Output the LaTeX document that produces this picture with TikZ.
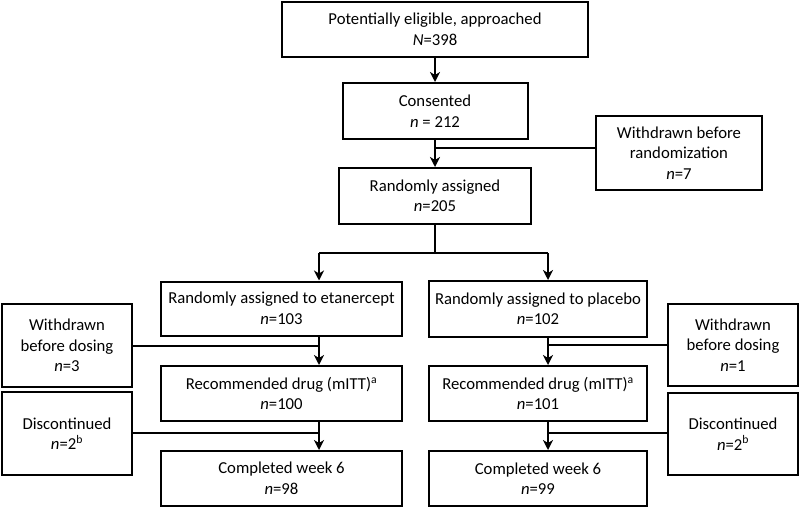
\documentclass[tikz,border=0pt]{standalone}
\usepackage{fontspec}
\setmainfont{Carlito}
\usetikzlibrary{arrows.meta}
\tikzset{
  box/.style={draw=black, line width=2pt, align=center, inner sep=0pt,
    font=\fontsize{16.7}{20.5}\selectfont},
  conn/.style={line width=1.7pt},
  arr/.style={conn, -{Stealth[length=10pt,width=10pt,inset=3pt]}}
}
\begin{document}
\begin{tikzpicture}[x=1pt,y=-1pt]
\useasboundingbox (0,0) rectangle (800,508);
\node[box, minimum width=306pt, minimum height=55pt] (top) at (435,29.5) {Potentially eligible, approached\\\textit{N}=398};
\node[box, minimum width=185pt, minimum height=56pt] (cons) at (435,111) {Consented\\\textit{n} = 212};
\node[box, minimum width=192pt, minimum height=56pt] (rand) at (435,196) {Randomly assigned\\\textit{n}=205};
\node[box, minimum width=166pt, minimum height=74pt] (wbr) at (679,153) {Withdrawn before\\randomization\\\textit{n}=7};
\node[box, minimum width=241pt, minimum height=54pt] (eta) at (281.5,308.5) {Randomly assigned to etanercept\\\textit{n}=103};
\node[box, minimum width=218pt, minimum height=56pt] (pla) at (538,309) {Randomly assigned to placebo\\\textit{n}=102};
\node[box, minimum width=130pt, minimum height=83pt] (wbdL) at (67,345.5) {Withdrawn\\before dosing\\\textit{n}=3};
\node[box, minimum width=241pt, minimum height=55pt] (recL) at (281.5,393.5) {Recommended drug (mITT)\textsuperscript{a}\\\textit{n}=100};
\node[box, minimum width=130pt, minimum height=83pt] (discL) at (67,433.5) {Discontinued\\\textit{n}=2\textsuperscript{b}};
\node[box, minimum width=241pt, minimum height=55pt] (compL) at (281.5,478.5) {Completed week 6\\\textit{n}=98};
\node[box, minimum width=130pt, minimum height=82pt] (wbdR) at (733,345) {Withdrawn\\before dosing\\\textit{n}=1};
\node[box, minimum width=218pt, minimum height=55pt] (recR) at (538,393.5) {Recommended drug (mITT)\textsuperscript{a}\\\textit{n}=101};
\node[box, minimum width=130pt, minimum height=82pt] (discR) at (733,434) {Discontinued\\\textit{n}=2\textsuperscript{b}};
\node[box, minimum width=218pt, minimum height=55pt] (compR) at (538,478.5) {Completed week 6\\\textit{n}=99};
\coordinate (j1) at (435,148);
\coordinate (bL) at (319,253);
\coordinate (bR) at (548,253);
\coordinate (jL1) at (319,346);
\coordinate (jL2) at (319,433);
\coordinate (jR1) at (548,345);
\coordinate (jR2) at (548,433);
\draw[arr] (top.south) -- (cons.north);
\draw[arr] (cons.south) -- (rand.north);
\draw[conn] (wbr.west |- j1) -- (j1);
\draw[conn] (rand.south) -- (rand.south |- bL);
\draw[conn] (bL) -- (bR);
\draw[arr] (bL) -- (bL |- eta.north);
\draw[arr] (bR) -- (bR |- pla.north);
\draw[arr] (eta.south -| bL) -- (recL.north -| bL);
\draw[arr] (recL.south -| bL) -- (compL.north -| bL);
\draw[arr] (pla.south -| bR) -- (recR.north -| bR);
\draw[arr] (recR.south -| bR) -- (compR.north -| bR);
\draw[conn] (wbdL.east |- jL1) -- (jL1);
\draw[conn] (discL.east |- jL2) -- (jL2);
\draw[conn] (wbdR.west |- jR1) -- (jR1);
\draw[conn] (discR.west |- jR2) -- (jR2);
\end{tikzpicture}
\end{document}
